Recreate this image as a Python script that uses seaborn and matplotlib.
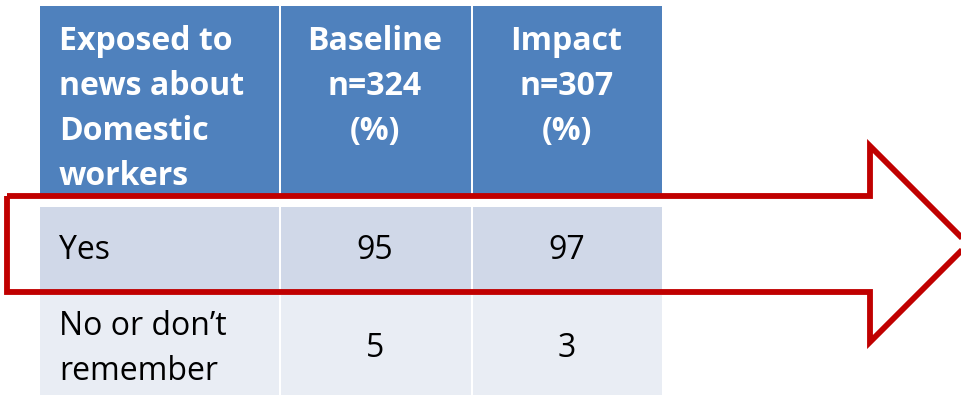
import matplotlib
matplotlib.use("Agg")
import matplotlib.pyplot as plt
from matplotlib.patches import Rectangle, Polygon
import seaborn as sns

sns.set_theme(style="white")
plt.rcParams["font.family"] = ["Open Sans", "DejaVu Sans"]

# Table content
header_lines = [
    ["Exposed to", "news about", "Domestic", "workers"],
    ["Baseline", "n=324", "(%)"],
    ["Impact", "n=307", "(%)"],
]
row_labels = [["Yes"], ["No or don\u2019t", "remember"]]
baseline_pct = [95, 5]
impact_pct = [97, 3]

# Palette
header_color = "#4F81BD"
row_colors = ["#D0D8E8", "#E9EDF4"]
arrow_color = "#C00000"

W, H = 961, 395
fig = plt.figure(figsize=(W / 100, H / 100), dpi=100)
ax = fig.add_axes([0, 0, 1, 1])
ax.set_xlim(0, W)
ax.set_ylim(H, 0)
ax.axis("off")

# Column and row edges (pixel layout)
col_edges = [40, 279, 471, 662]
row_edges = [6, 195, 207, 290, 295, 395]
gap = 1.5

# Header cells
for c in range(3):
    ax.add_patch(Rectangle((col_edges[c] + (gap if c else 0), row_edges[0]),
                           col_edges[c + 1] - col_edges[c] - (gap if c else 0),
                           row_edges[1] - row_edges[0],
                           facecolor=header_color, edgecolor="none"))
# Body cells
body_spans = [(row_edges[2], row_edges[3]), (row_edges[4], row_edges[5])]
for r, (y0, y1) in enumerate(body_spans):
    for c in range(3):
        ax.add_patch(Rectangle((col_edges[c] + (gap if c else 0), y0),
                               col_edges[c + 1] - col_edges[c] - (gap if c else 0),
                               y1 - y0, facecolor=row_colors[r], edgecolor="none"))

fs = 23
header_base = [50, 95, 140, 185]
for i, line in enumerate(header_lines[0]):
    ax.text(59, header_base[i], line, color="white", fontsize=fs, fontweight="bold",
            ha="left", va="baseline")
for c in (1, 2):
    cx = (col_edges[c] + col_edges[c + 1]) / 2
    for i, line in enumerate(header_lines[c]):
        ax.text(cx, header_base[i], line, color="white", fontsize=fs, fontweight="bold",
                ha="center", va="baseline")

# Body text
label_base = [[259], [335, 380]]
value_base = [259, 357]
for r in range(2):
    for i, line in enumerate(row_labels[r]):
        ax.text(59, label_base[r][i], line, color="black", fontsize=fs,
                ha="left", va="baseline")
    for c, vals in ((1, baseline_pct), (2, impact_pct)):
        cx = (col_edges[c] + col_edges[c + 1]) / 2
        ax.text(cx, value_base[r], f"{vals[r]}", color="black", fontsize=fs,
                ha="center", va="baseline")

# Outlined block arrow over the first data row
arrow = Polygon([(7, 196), (870, 196), (870, 146), (968, 244),
                 (870, 342), (870, 292), (7, 292)],
                closed=True, facecolor="none", edgecolor=arrow_color,
                linewidth=4.2, joinstyle="miter")
ax.add_patch(arrow)

fig.savefig("out.png", dpi=100)
